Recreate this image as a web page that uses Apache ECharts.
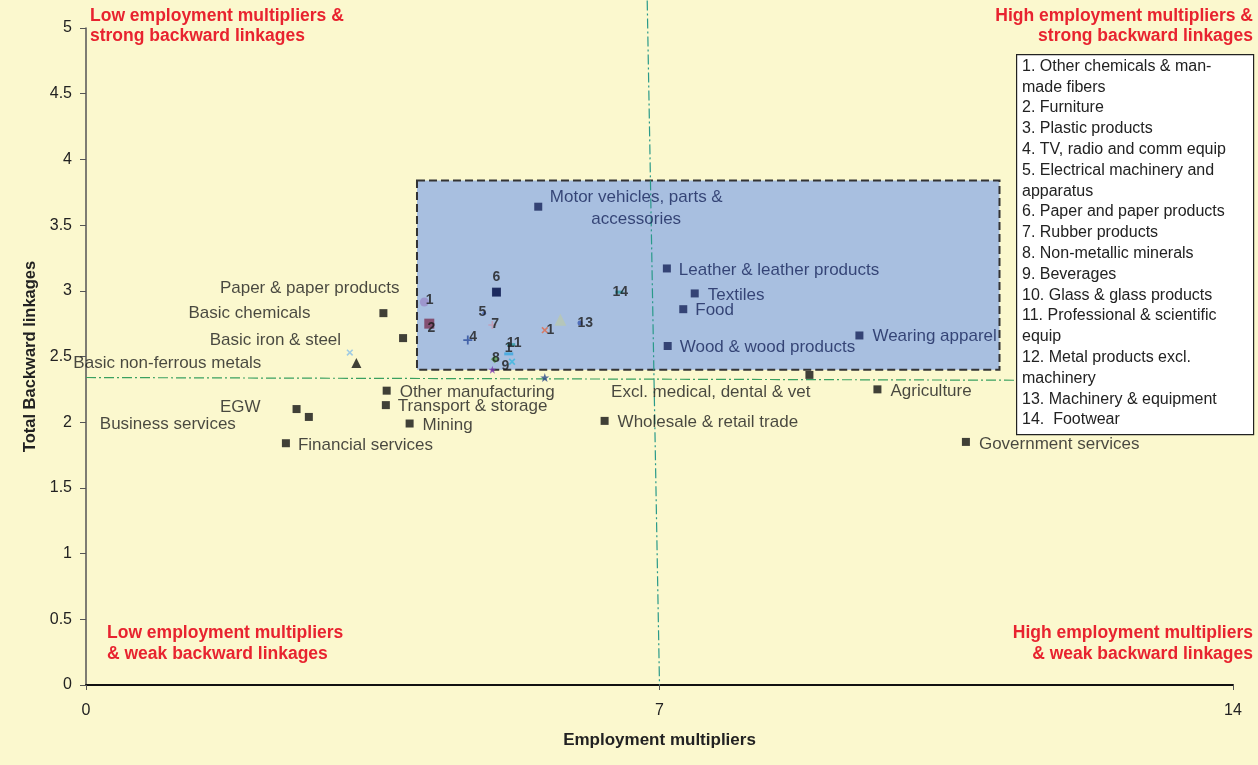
<!DOCTYPE html>
<html><head><meta charset="utf-8">
<script src="https://cdn.jsdelivr.net/npm/echarts@6/dist/echarts.min.js"></script>
<style>html,body{margin:0;padding:0;background:#fbf8ce}#c{width:1258px;height:765px}</style>
</head><body><div id="c"></div>
<script>
// ---- data ----
const sectorNames = ['Motor vehicles, parts &\naccessories','Leather & leather products','Textiles','Food','Wood & wood products','Wearing apparel','Excl. medical, dental & vet','Agriculture','Government services','Wholesale & retail trade','Mining','Transport & storage','Other manufacturing','Financial services','EGW','Business services','Basic chemicals','Basic iron & steel','Basic non-ferrous metals','Paper & paper products'];
const sectorX = [5.52, 7.09, 7.43, 7.29, 7.10, 9.44, 8.83, 9.66, 10.74, 6.33, 3.95, 3.66, 3.67, 2.44, 2.57, 2.72, 3.63, 3.87, 3.30, 5.01];
const sectorY = [3.64, 3.17, 2.98, 2.86, 2.58, 2.66, 2.36, 2.25, 1.85, 2.01, 1.99, 2.13, 2.24, 1.84, 2.10, 2.04, 2.83, 2.64, 2.45, 2.99];

const numLabels = ['1','2','3','4','5','6','7','8','9','1','11','1','13','14','','','','',''];
const numX = [4.13, 4.19, 4.55, 4.66, 4.86, 5.01, 4.96, 4.99, 5.20, 5.16, 5.19, 5.60, 6.03, 6.51, 4.96, 5.79, 5.60, 3.22, 4.93];
const numY = [2.915, 2.75, 2.72, 2.625, 2.83, 2.99, 2.74, 2.48, 2.46, 2.52, 2.59, 2.70, 2.755, 2.99, 2.40, 2.78, 2.34, 2.53, 2.74];

const legendLines = ['1. Other chemicals & man-','made fibers','2. Furniture','3. Plastic products','4. TV, radio and comm equip','5. Electrical machinery and','apparatus','6. Paper and paper products','7. Rubber products','8. Non-metallic minerals','9. Beverages','10. Glass & glass products','11. Professional & scientific','equip','12. Metal products excl.','machinery','13. Machinery & equipment','14.  Footwear'];

const xMin = 0, xMax = 14, xInterval = 7;
const yMin = 0, yMax = 5, yInterval = 0.5;
const refLineV = [[6.85, 5.21], [7.0, 0]];
const refLineH = [[0, 2.34], [14.29, 2.314]];
const boxArea = [[4.04, 3.84], [11.15, 2.40]];

// ---- styles ----
const FONT = '"Liberation Sans", Arial, sans-serif';
const NAVY = '#17245a';
const TXT = '#1c1c1c';
const labelCfg = {
  'Motor vehicles, parts &\naccessories': {position:[102,6], align:'center', verticalAlign:'middle', color:NAVY, lineHeight:22},
  'Leather & leather products': {position:'right', distance:8, offset:[0,2], color:NAVY},
  'Textiles': {position:'right', distance:9, offset:[0,2], color:NAVY},
  'Food': {position:'right', distance:8, offset:[0,1], color:NAVY},
  'Wood & wood products': {position:'right', distance:8, offset:[0,1], color:NAVY},
  'Wearing apparel': {position:'right', distance:9, offset:[0,1], color:NAVY},
  'Excl. medical, dental & vet': {position:[5,21], align:'right', verticalAlign:'middle'},
  'Agriculture': {position:'right', distance:9, offset:[0,2]},
  'Government services': {position:'right', distance:9, offset:[0,2]},
  'Wholesale & retail trade': {position:'right', distance:9, offset:[0,1]},
  'Mining': {position:'right', distance:9, offset:[0,2]},
  'Transport & storage': {position:'right', distance:8, offset:[0,1]},
  'Other manufacturing': {position:'right', distance:9, offset:[0,2]},
  'Financial services': {position:'right', distance:8, offset:[0,2]},
  'EGW': {position:'left', distance:32, offset:[0,-2]},
  'Business services': {position:'left', distance:69, offset:[0,7]},
  'Basic chemicals': {position:'left', distance:69, offset:[0,0]},
  'Basic iron & steel': {position:'left', distance:58, offset:[0,2]},
  'Basic non-ferrous metals': {position:'left', distance:90, offset:[0,0]},
  'Paper & paper products': {position:'left', distance:93, offset:[0,-4]}
};
const squareColor = n => (labelCfg[n] && labelCfg[n].color === NAVY) || n === 'Paper & paper products' ? NAVY : '#111';

const PLUS = 'path://M4,0h2v4h4v2h-4v4h-2v-4h-4v-2h4z';
const STAR = 'path://M5,0L6.2,3.6L10,3.6L7,5.9L8.1,9.5L5,7.3L1.9,9.5L3,5.9L0,3.6L3.8,3.6Z';
const numStyle = [
  {symbol:'circle', size:9, color:'#9a8cc8', lp:'right', ld:-3, lo:[0,-2]},
  {symbol:'rect', size:10, color:'#7a3456', lp:'inside', lo:[2,4]},
  {symbol:'none', size:0, color:'#000', lp:'inside', lo:[0,0]},
  {symbol:PLUS, size:9, color:'#2a4c9c', lp:'right', ld:-3, lo:[0,-3]},
  {symbol:'circle', size:4, color:'#4a6cc0', lp:'left', ld:-4, lo:[0,-1]},
  {symbol:'rect', size:9, color:NAVY, lp:'top', ld:3, lo:[0,0]},
  {symbol:PLUS, size:8, color:'#c89ab0', lp:'right', ld:-5, lo:[0,-1]},
  {symbol:'diamond', size:8, color:'#5aa050', lp:'inside', lo:[1,-1]},
  {symbol:PLUS, size:8, color:'#38b8e0', rot:45, lp:'left', ld:-3, lo:[0,4]},
  {symbol:'rect', size:[9,3], color:'#38a8e0', lp:'top', ld:-3, lo:[0,0]},
  {symbol:'rect', size:[8,3], color:'#2a9aa0', lp:'top', ld:-7, lo:[3,0]},
  {symbol:PLUS, size:8, color:'#e06a4a', rot:45, lp:'right', ld:-4, lo:[0,0]},
  {symbol:'circle', size:5, color:'#3a5ab0', lp:'right', ld:-5, lo:[0,0]},
  {symbol:'rect', size:[8,3], color:'#2a9aa0', lp:'inside', lo:[1,0]},
  {symbol:STAR, size:8, color:'#7a3ab0'},
  {symbol:'triangle', size:12, color:'#b8c8b0'},
  {symbol:STAR, size:9, color:'#2a4a8a'},
  {symbol:PLUS, size:8, color:'#8ac0e8', rot:45},
  {symbol:'none', size:0, color:'#000'}
];

// ---- build ----
const sectorData = sectorNames.map((n, i) => {
  const c = labelCfg[n] || {};
  const item = {
    name: n,
    value: [sectorX[i], sectorY[i]],
    itemStyle: {color: squareColor(n)},
    label: Object.assign({show: true, formatter: n, fontFamily: FONT, fontSize: 17, color: TXT}, c)
  };
  if (n === 'Basic non-ferrous metals') { item.symbol = 'triangle'; item.symbolSize = 10; }
  return item;
});

const numData = numLabels.map((t, i) => {
  const s = numStyle[i];
  return {
    value: [numX[i], numY[i]],
    symbol: s.symbol,
    symbolSize: s.size,
    symbolRotate: s.rot || 0,
    itemStyle: {color: s.color},
    label: {show: !!t, formatter: t, position: s.lp || 'right', distance: s.ld || 0, offset: s.lo || [0,0],
            fontFamily: FONT, fontSize: 14, fontWeight: 'bold', color: '#1a1a1a'}
  };
});

const RED = '#e8232f';
const graphics = [
  {type:'rect', left:1016, top:54, shape:{width:237, height:380}, style:{fill:'#fff', stroke:'#222', lineWidth:1.2}, z:10},
  {type:'text', x:1022, y:56, style:{text: legendLines.join('\n'), font:'16px ' + FONT, lineHeight: 20.8, fill:'#222'}, z:11},
  {type:'text', x:90, y:6, style:{text:'Low employment multipliers &\nstrong backward linkages', font:'bold 17.5px ' + FONT, lineHeight:20, fill:RED}, z:11},
  {type:'text', x:1253, y:6, style:{text:'High employment multipliers &\nstrong backward linkages', font:'bold 17.5px ' + FONT, lineHeight:20, fill:RED, align:'right'}, z:11},
  {type:'text', x:107, y:623, style:{text:'Low employment multipliers\n& weak backward linkages', font:'bold 17.5px ' + FONT, lineHeight:21, fill:RED}, z:11},
  {type:'text', x:1253, y:623, style:{text:'High employment multipliers\n& weak backward linkages', font:'bold 17.5px ' + FONT, lineHeight:21, fill:RED, align:'right'}, z:11}
];

const chart = echarts.init(document.getElementById('c'), null, {renderer:'canvas'});
chart.setOption({
  backgroundColor: '#fbf8ce',
  animation: false,
  textStyle: {fontFamily: FONT},
  grid: {left: 86, right: 25, top: 28, bottom: 80, containLabel: false},
  xAxis: {
    type: 'value', min: xMin, max: xMax, interval: xInterval,
    name: 'Employment multipliers', nameLocation: 'middle', nameGap: 47,
    nameTextStyle: {fontFamily: FONT, fontSize: 17, fontWeight: 'bold', color: '#222'},
    axisLine: {lineStyle: {color: '#111', width: 2}},
    axisTick: {show: true, length: 5, lineStyle: {color: '#555'}},
    axisLabel: {margin: 18, fontFamily: FONT, fontSize: 16, color: '#222'},
    splitLine: {show: false}
  },
  yAxis: {
    type: 'value', min: yMin, max: yMax, interval: yInterval,
    name: 'Total Backward linkages', nameLocation: 'middle', nameGap: 44, nameRotate: 90,
    nameTextStyle: {fontFamily: FONT, fontSize: 16.5, fontWeight: 'bold', color: '#222'},
    axisLine: {show: true, lineStyle: {color: '#555', width: 1.5}},
    axisTick: {show: true, length: 6, lineStyle: {color: '#555'}},
    axisLabel: {margin: 14, fontFamily: FONT, fontSize: 16, color: '#222'},
    splitLine: {show: false}
  },
  graphic: graphics,
  series: [
    {
      type: 'scatter', data: [], z: 1, silent: true,
      markArea: {silent: true, itemStyle: {color: '#a8bfe0', borderColor: '#333', borderWidth: 2, borderType: [8, 4]},
        data: [[{coord: boxArea[0]}, {coord: boxArea[1]}]]}
    },
    {type: 'line', data: refLineV, clip: false, symbol: 'none', z: 2, silent: true,
      lineStyle: {color: '#2a9a8a', width: 1.2, type: [10, 3, 2, 3]}},
    {type: 'line', data: refLineH, clip: false, symbol: 'none', z: 2, silent: true,
      lineStyle: {color: '#3aa060', width: 1.2, type: [10, 3, 2, 3]}},
    {type: 'scatter', data: sectorData, symbol: 'rect', symbolSize: 8, z: 3},
    {type: 'scatter', data: numData, z: 4}
  ]
});
</script></body></html>
